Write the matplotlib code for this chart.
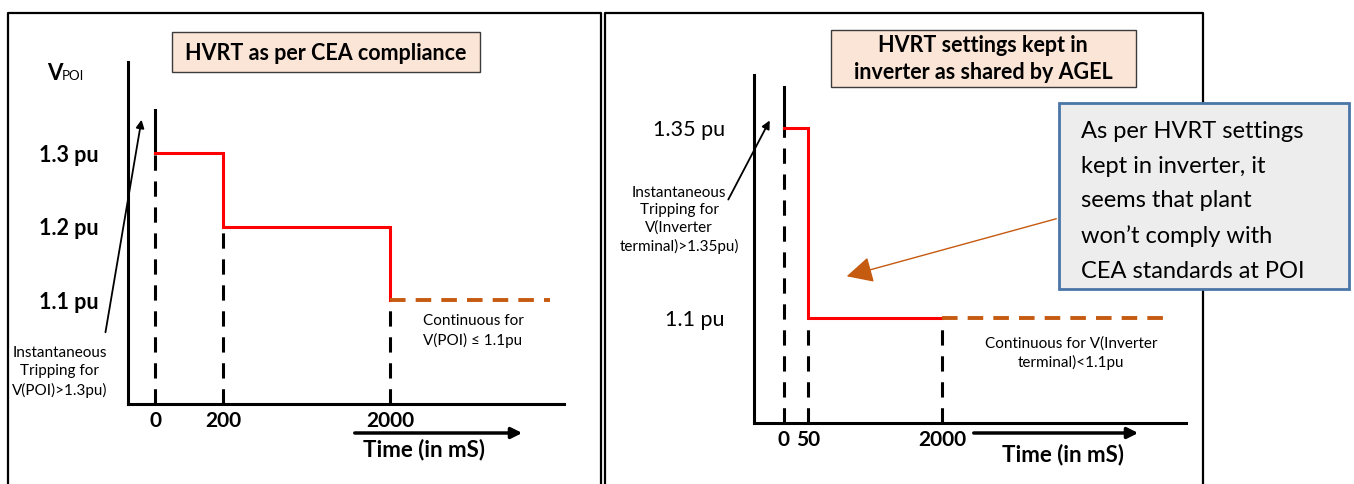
import numpy as np
import matplotlib
matplotlib.use('Agg')
import matplotlib.pyplot as plt
from matplotlib.patches import Rectangle

plt.rcParams['font.family'] = ['Lato', 'DejaVu Sans']

W, H = 1354, 484

# left panel: HVRT as per CEA compliance
cea_t = [0, 200, 2000]            # ms, breakpoints
cea_v = [1.3, 1.2, 1.1]           # pu, level from each breakpoint on
cea_cont_end = 2920               # continuous 1.1 pu drawn out to here
cea_xlabels = ['0', '200', '2000']
cea_ylabels = ['1.3 pu', '1.2 pu', '1.1 pu']

# right panel: HVRT settings kept in inverter
inv_t = [0, 50, 2000]
inv_v = [1.35, 1.1, 1.1]
inv_cont_end = 2940
inv_xlabels = ['0', '50', '2000']
inv_yticks = [1.35, 1.1]
inv_ylabels = ['1.35 pu', '1.1 pu']

RED = '#FF0000'
ORANGE = '#C55A11'
PEACH = '#FBE5D6'


def schematic_x(ax, ms_anchor, px_anchor):
    # time axis of the sketch is not to scale: piecewise linear scale
    fwd = lambda x: np.interp(x, ms_anchor, px_anchor)
    inv = lambda p: np.interp(p, px_anchor, ms_anchor)
    ax.set_xscale('function', functions=(fwd, inv))
    ax.set_xlim(ms_anchor[0], ms_anchor[-1])


def draw_panel(ax, t, v, cont_end, top_v, xlabels, yticks, ylabels, yfont, xfont):
    # red step curve
    xs, ys = [t[0]], [v[0]]
    for i in range(1, len(t)):
        xs += [t[i], t[i]]
        ys += [v[i - 1], v[i]]
    ax.plot(xs, ys, color=RED, lw=2.2, solid_joinstyle='miter', zorder=3)
    # continuous region
    ax.plot([t[-1], cont_end], [v[-1], v[-1]], color=ORANGE, lw=2.8,
            dashes=(4, 2.6), zorder=3)
    # solid marker above t=0
    ax.plot([t[0], t[0]], [v[0], top_v], color='black', lw=2.2, zorder=2)
    # dashed drop lines
    y0 = ax.get_ylim()[0]
    for ti, vi in zip(t, v):
        ax.plot([ti, ti], [y0, vi], color='black', lw=2.2, dashes=(5, 3.5), zorder=2)

    for s in ['top', 'right']:
        ax.spines[s].set_visible(False)
    for s in ['left', 'bottom']:
        ax.spines[s].set_linewidth(2.2)
    ax.patch.set_alpha(0)
    ax.set_xticks(t)
    ax.set_xticklabels(xlabels, **xfont)
    ax.set_yticks(yticks)
    ax.set_yticklabels(ylabels, **yfont)
    ax.tick_params(axis='x', length=0, pad=5)
    ax.tick_params(axis='y', length=0, pad=21)


fig = plt.figure(figsize=(13.54, 4.84), dpi=100)

# left panel axes
axl = fig.add_axes([128 / W, 1 - 404 / H, (564 - 128) / W, (404 - 62) / H])
axl.set_ylim(1.3 - 251 / 735, 1.3 + 91 / 735)
schematic_x(axl, [-300, 0, 200, 2000, 3000], [128, 155, 223, 390, 564])
draw_panel(axl, cea_t, cea_v, cea_cont_end, 1.3 + 43 / 735, cea_xlabels,
           cea_v, cea_ylabels,
           dict(fontsize=15.5, fontweight='bold'),
           dict(fontsize=15, fontweight='bold'))

# right panel axes
axr = fig.add_axes([754 / W, 1 - 423 / H, (1186 - 754) / W, (423 - 75) / H])
axr.set_ylim(1.35 - 295 / 760, 1.35 + 53 / 760)
schematic_x(axr, [-150, 0, 50, 2000, 3000], [754, 784, 808, 942, 1186])
draw_panel(axr, inv_t, inv_v, inv_cont_end, 1.35 + 41 / 760, inv_xlabels,
           inv_yticks, inv_ylabels,
           dict(fontsize=15.5),
           dict(fontsize=15, fontweight='bold'))

# overlay in pixel coordinates for frames, boxes and notes
ov = fig.add_axes([0, 0, 1, 1], zorder=5)
ov.set_xlim(0, W)
ov.set_ylim(H, 0)
ov.axis('off')

ov.plot([8, 8, 601, 601], [H, 13, 13, H], color='black', lw=1.6, zorder=1)
ov.plot([605, 605, 1203, 1203], [H, 13, 13, H], color='black', lw=1.6, zorder=1)

# titles
ov.add_patch(Rectangle((172, 32), 308, 40, facecolor=PEACH, edgecolor='#3b3b3b', lw=1))
ov.text(326, 53, 'HVRT as per CEA compliance', ha='center', va='center',
        fontsize=15.5, fontweight='bold')
ov.add_patch(Rectangle((831, 30), 305, 57, facecolor=PEACH, edgecolor='#3b3b3b', lw=1))
ov.text(983, 59, 'HVRT settings kept in\ninverter as shared by AGEL', ha='center',
        va='center', fontsize=15.5, fontweight='bold', linespacing=1.3)

# y axis name
ov.text(47, 74, 'V', ha='left', va='center', fontsize=16, fontweight='bold')
ov.text(62, 76, 'POI', ha='left', va='center', fontsize=9.5)

# instantaneous tripping notes
ov.annotate('', xy=(142, 117), xytext=(105, 335),
            arrowprops=dict(arrowstyle='-|>', color='black', lw=1.3, mutation_scale=12))
ov.text(60, 372, 'Instantaneous\nTripping for\nV(POI)>1.3pu)', ha='center', va='center',
        fontsize=11, linespacing=1.4)
ov.annotate('', xy=(771, 118), xytext=(727, 202),
            arrowprops=dict(arrowstyle='-|>', color='black', lw=1.3, mutation_scale=12))
ov.text(679, 220, 'Instantaneous\nTripping for\nV(Inverter\nterminal)>1.35pu)', ha='center',
        va='center', fontsize=11, linespacing=1.3)

# continuous notes
ov.text(473, 331, 'Continuous for\nV(POI) \u2264 1.1pu', ha='center', va='center',
        fontsize=11, linespacing=1.4)
ov.text(1071, 353, 'Continuous for V(Inverter\nterminal)<1.1pu', ha='center', va='center',
        fontsize=11, linespacing=1.4)

# time arrows
for x0, x1, y in [(352, 525, 433), (971, 1141, 433)]:
    ov.annotate('', xy=(x1, y), xytext=(x0, y),
                arrowprops=dict(arrowstyle='-|>', color='black', lw=2.5, mutation_scale=16))
ov.text(424, 450, 'Time (in mS)', ha='center', va='center', fontsize=16, fontweight='bold')
ov.text(1063, 455, 'Time (in mS)', ha='center', va='center', fontsize=16, fontweight='bold')

# callout, drawn over the panel frame
ov.annotate('', xy=(844, 277), xytext=(1059, 218),
            arrowprops=dict(arrowstyle='-|>,head_length=0.9,head_width=0.45',
                            color=ORANGE, lw=1, mutation_scale=18))
box = Rectangle((1059, 103), 290, 186, facecolor='#EDEDED', edgecolor='#4A76A8', lw=2,
                zorder=4)
ov.add_patch(box)
t = ov.text(1081, 121, "As per HVRT settings\nkept in inverter, it\nseems that plant\n"
            "won\u2019t comply with\nCEA standards at POI", ha='left', va='top',
            fontsize=17, linespacing=1.8, zorder=5)
t.set_clip_path(Rectangle((1060, 104), 288, 179, transform=ov.transData))

fig.savefig('out.png', dpi=100)
